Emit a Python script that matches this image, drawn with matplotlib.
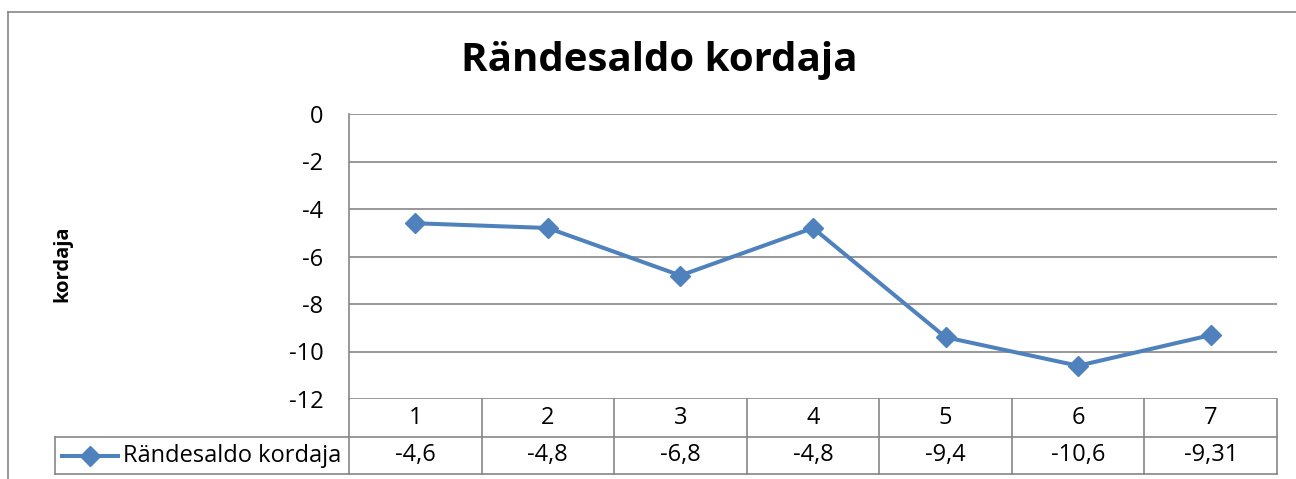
import matplotlib
matplotlib.use("Agg")
import matplotlib.pyplot as plt
from matplotlib.lines import Line2D

categories = ["1", "2", "3", "4", "5", "6", "7"]
values = [-4.6, -4.8, -6.8, -4.8, -9.4, -10.6, -9.31]
value_labels = ["-4,6", "-4,8", "-6,8", "-4,8", "-9,4", "-10,6", "-9,31"]
yticks = [0, -2, -4, -6, -8, -10, -12]
series_name = "Rändesaldo kordaja"
title = "Rändesaldo kordaja"
ylabel = "kordaja"

plt.rcParams['font.family'] = ['Open Sans', 'DejaVu Sans']
W, H = 1296, 479
fig = plt.figure(figsize=(W / 100, H / 100), dpi=100)

blue = "#4F81BD"
gray = "#868686"
fs = 17

# outer chart border (top + left visible)
fig.add_artist(Line2D([8 / W, 1.0], [1 - 12 / H, 1 - 12 / H], color=gray, lw=1.2, transform=fig.transFigure))
fig.add_artist(Line2D([8 / W, 8 / W], [1 - 12 / H, 0], color=gray, lw=1.2, transform=fig.transFigure))

left, right, top, bottom = 349, 1277, 114, 399
ax = fig.add_axes([left / W, 1 - bottom / H, (right - left) / W, (bottom - top) / H])
n = len(categories)
x = list(range(1, n + 1))
ax.set_xlim(0.5, n + 0.5)
ax.set_ylim(-12, 0)
ax.set_yticks(yticks)
ax.set_yticklabels([str(t) for t in yticks], fontsize=fs)
ax.tick_params(axis='y', length=0, pad=18.5)
ax.set_xticks([])
for s in ["top", "right", "bottom"]:
    ax.spines[s].set_visible(False)
ax.spines["left"].set_color(gray)
ax.spines["left"].set_linewidth(1.2)
for t in yticks:
    ax.axhline(t, color=gray, lw=1.2, zorder=1)

ax.plot(x, values, color=blue, lw=2.9, marker="D", markersize=10, zorder=3, clip_on=False)

# data table
ph = bottom - top
r1 = -(437 - bottom) / ph
r2 = -(474 - bottom) / ph
trans = ax.get_xaxis_transform()
legx0 = 0.5 - (left - 55) / (right - left) * n
kw = dict(color=gray, lw=1.2, transform=trans, clip_on=False)
ax.plot([legx0, n + 0.5], [r1, r1], **kw)
ax.plot([legx0, n + 0.5], [r2, r2], **kw)
ax.plot([legx0, legx0], [r1, r2], **kw)
for i in range(n + 1):
    ax.plot([0.5 + i, 0.5 + i], [0, r2], **kw)
for xi, c, vl in zip(x, categories, value_labels):
    ax.text(xi, r1 / 2, c, ha="center", va="center", fontsize=fs, transform=trans)
    ax.text(xi, (r1 + r2) / 2, vl, ha="center", va="center", fontsize=fs, transform=trans)

# legend key in table
lx0 = 0.5 - (left - 62) / (right - left) * n
lx1 = 0.5 - (left - 118) / (right - left) * n
ym = (r1 + r2) / 2
ax.plot([lx0, lx1], [ym, ym], color=blue, lw=2.9, transform=trans, clip_on=False)
ax.plot([(lx0 + lx1) / 2], [ym], color=blue, marker="D", markersize=10, transform=trans, clip_on=False)
ax.text(0.5 - (left - 123) / (right - left) * n, ym, series_name, ha="left", va="center", fontsize=fs, transform=trans)

fig.text(659 / W, 1 - 60 / H, title, ha="center", va="center", fontsize=29, fontweight="bold")
fig.text(62 / W, 1 - 264 / H, ylabel, ha="center", va="center", rotation=90, fontsize=14.5, fontweight="bold")

fig.savefig("out.png", dpi=100)
